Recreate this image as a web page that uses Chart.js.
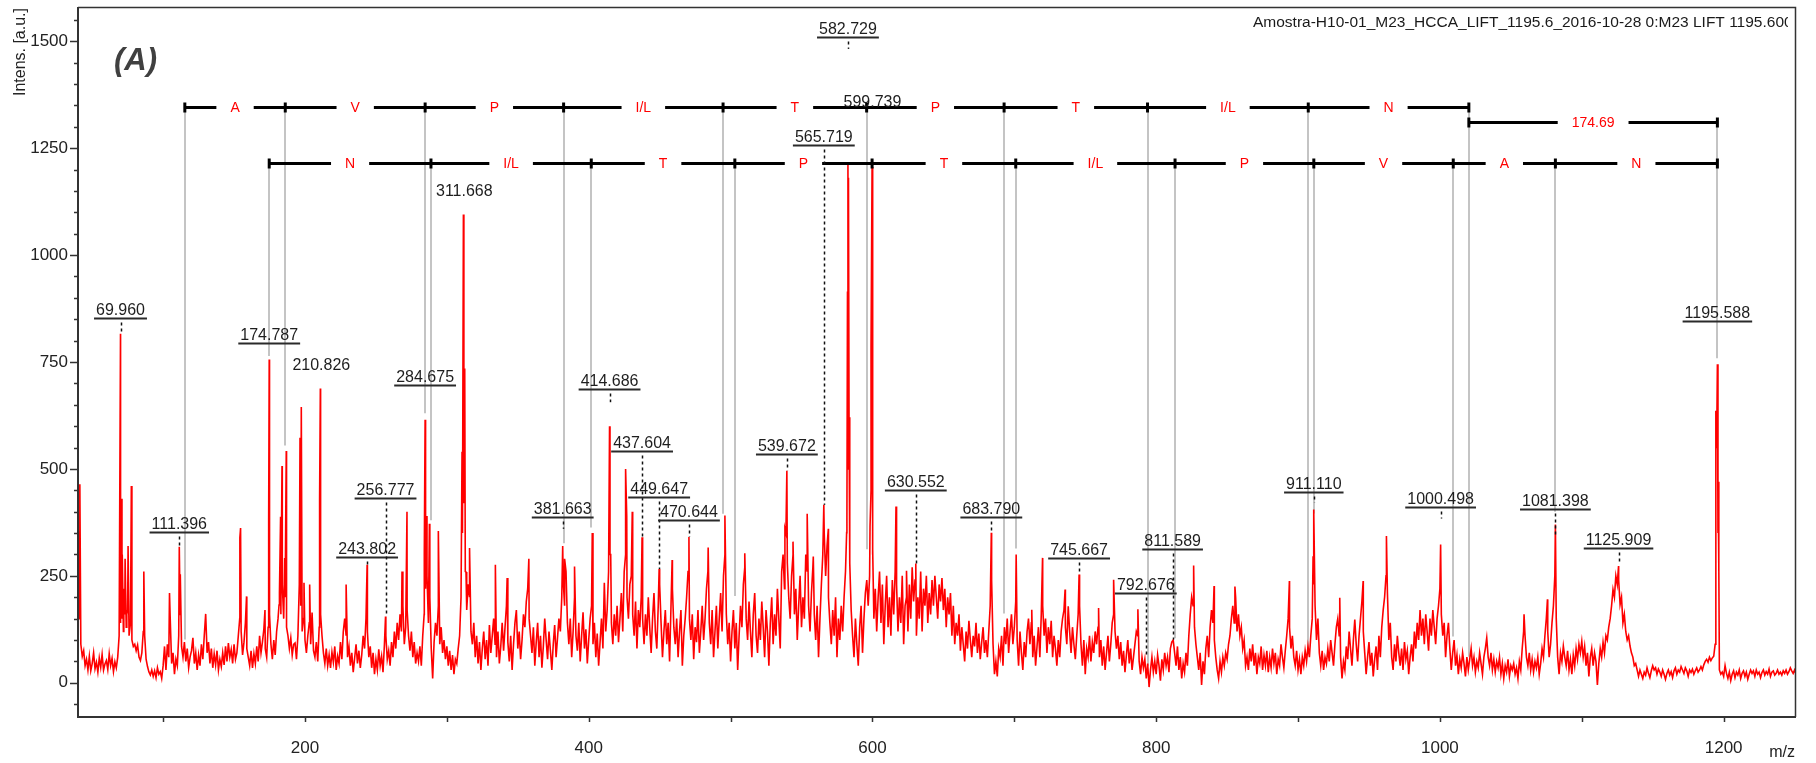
<!DOCTYPE html>
<html>
<head>
<meta charset="utf-8">
<script src="https://cdn.jsdelivr.net/npm/chart.js@4.4.1/dist/chart.umd.min.js"></script>
<style>html,body{margin:0;padding:0;background:#fff;overflow:hidden}canvas{display:block}</style>
</head>
<body>
<canvas id="c" width="1816" height="763"></canvas>
<script>
// ---------- DATA ----------
// spectrum sampled every 1 m/z (intensity, a.u.), split in blocks
const noiseStartMz = [40, 240, 440, 640, 840, 1040];
const noiseA = [
340,150,90,62,75,40,55,30,62,28,45,70,33,48,25,58,36,66,30,44,
52,31,68,40,57,26,49,35,60,110,140,150,120,160,130,170,110,140,100,85,
90,75,88,60,52,70,120,110,55,38,25,18,30,15,28,12,35,20,26,10,
40,85,30,90,60,150,45,70,20,55,40,110,160,85,60,95,50,80,35,60,
75,105,45,70,30,65,40,90,55,110,161,70,95,45,80,35,68,42,75,30,
55,38,70,42,85,50,93,60,78,45,90,55,70,110,150,120,65,95,140,80,
60,40,75,35,68,45,85,50,110,70,95,125,80,60,130,160,90,55,100,65,
120,150,210,160,230,150,200,130,110,80,105,65,90,93,55,110,230,180,120,150,
100,70,110,140,90,164,75,60,95,50,130,160,110,70,45,80,40,65,35,72,
48,85,30,62,45,95,55,120,150,110,60,85,40,70,25,58,90,45,75,35];
const noiseB = [
65,110,80,150,120,60,85,35,70,20,55,30,78,40,62,25,90,110,55,75,
40,95,60,120,80,140,100,160,120,180,90,130,170,110,75,120,60,95,45,70,
50,85,40,110,160,220,250,140,200,80,10,95,140,110,180,90,130,70,100,55,
85,40,75,30,65,20,55,45,80,110,200,350,420,260,170,230,200,120,90,140,
60,110,45,95,30,80,120,55,100,40,135,70,110,150,90,60,120,45,85,140,
75,130,180,95,50,110,30,90,140,170,80,120,55,100,160,130,190,220,150,110,
70,130,40,95,140,60,110,35,85,150,100,55,120,75,30,90,135,60,105,150,
120,200,240,180,260,140,90,150,60,120,200,110,75,140,50,110,165,80,125,45,
100,150,180,90,140,60,115,40,95,150,80,234,120,170,260,300,140,90,160,110,
180,95,150,210,120,260,300,200,150,230,250,160,110,190,80,170,130,200,150,90];
const noiseC = [
160,110,200,130,70,150,210,120,80,180,230,140,60,120,170,90,140,50,180,220,
130,90,150,60,120,170,40,110,150,200,260,150,100,160,55,130,95,170,70,120,
180,100,150,220,260,140,90,170,60,120,180,80,150,210,120,250,300,160,90,140,
50,120,170,80,140,30,110,180,130,230,270,150,100,190,120,60,160,210,110,70,
150,100,190,130,60,170,120,40,140,200,90,160,110,220,150,80,260,300,220,350,
280,200,150,250,300,160,220,100,180,250,130,200,150,300,260,180,120,210,270,160,
100,180,60,150,230,300,350,250,320,200,140,90,170,110,200,60,150,100,180,120,
200,260,380,500,280,170,110,60,150,90,40,130,180,70,150,210,240,180,250,450,
300,150,220,120,200,260,140,230,90,180,250,130,200,110,240,160,260,230,120,200,
140,250,90,180,200,120,230,150,270,190,240,110,200,150,260,120,220,180,250,140];
const noiseD = [
210,160,240,180,250,200,150,230,190,245,170,220,130,200,160,210,110,180,90,140,
110,160,75,130,90,50,120,80,145,100,60,110,85,140,70,115,55,95,130,70,
100,60,120,180,240,90,20,50,15,80,60,110,40,130,90,150,70,120,160,90,
130,190,100,40,120,70,30,95,60,120,150,90,140,60,110,40,85,130,60,160,
180,110,150,70,130,90,145,60,110,80,40,100,60,120,150,170,130,90,179,120,
70,130,90,55,110,160,180,90,40,100,20,80,60,110,50,95,70,120,90,130,
60,100,40,85,30,70,110,50,90,140,160,120,80,110,55,95,40,75,25,65,
100,45,80,30,60,90,120,110,50,20,60,35,55,10,45,-10,30,60,25,50,
20,65,40,5,55,30,70,40,60,25,80,95,100,70,40,85,30,60,10,45,
25,70,40,110,160,200,180,130,90,60,30,70,-5,50,20,80,110,60,130,170];
const noiseE = [
140,100,60,30,10,50,25,60,40,70,55,90,110,150,180,140,200,120,160,110,
130,80,100,40,60,30,80,50,90,40,70,20,60,45,85,30,65,40,75,25,
60,35,80,45,70,20,55,40,90,60,35,75,110,150,130,80,110,60,40,75,
30,55,20,60,40,75,50,85,60,110,150,230,180,100,150,70,40,75,30,60,
45,80,50,100,70,40,90,130,150,110,60,10,50,30,85,55,120,80,40,100,
148,90,50,110,150,190,120,70,20,60,95,40,70,15,55,85,30,110,60,130,
170,200,250,210,100,140,60,30,90,50,110,70,40,80,30,95,55,75,20,60,
90,50,120,80,140,100,170,110,150,90,160,120,75,150,110,170,130,90,150,180,
220,160,110,140,60,110,140,80,30,70,100,40,65,20,55,35,70,45,15,60,
30,55,80,40,60,25,50,35,70,45,20,60,80,105,60,40,70,30,55,25];
const noiseF = [
50,35,60,20,45,10,40,25,55,15,40,30,45,20,35,10,50,30,80,120,
110,60,40,70,30,55,25,50,35,60,20,45,80,60,110,150,120,60,90,140,
180,250,150,60,20,70,50,86,60,40,75,30,55,20,65,40,80,55,90,70,
97,60,85,40,70,15,60,80,40,70,50,-5,45,80,60,95,70,110,100,130,
150,180,218,200,250,230,240,183,200,140,160,120,100,110,86,70,60,40,45,30,
15,30,20,10,25,18,35,22,12,28,40,30,35,20,32,25,15,30,20,8,
22,30,18,26,12,28,35,20,30,25,38,30,22,35,28,15,30,24,32,20,
28,35,25,30,38,30,42,50,55,48,60,52,58,62,90,550,350,30,20,25,
15,40,22,10,25,5,20,28,12,25,18,30,10,22,28,15,25,8,20,30,
22,28,15,30,20,25,12,24,30,18,26,20,32,15,25,28,18,22,30,20,
25,18,28,22,30,20,26,35,28,22,30,20];

// individual peaks (m/z, intensity)
const peakMz = [40.6,41.3,69.96,70.5,71.2,72.3,73.2,74.4,75.3,77.6,86.4,104.5,111.396,112.1,154.1,154.6,158.8,171.8,
174.4,174.787,181.7,182.8,183.8,185.7,186.8,196.5,197.4,199.3,203.3,210.3,210.826,229.0,243.802,256.777,268.4,271.9,
284.1,284.675,285.5,287.7,294.0,310.7,311.668,312.6,313.5,316.0,334.2,342.5,357.8,381.663,383.0,390.0,402.5,414.686,415.5,
426.0,426.8,430.7,437.604,449.647,458.8,470.644,484.2,496.0,510.0,538.3,539.672,544.0,554.0,558.3,565.719,568.9,
581.8,582.4,582.729,583.1,583.5,598.3,599.0,599.739,600.3,616.6,624.0,630.552,683.79,701.3,712.3,719.9,735.8,745.667,
759.4,770.0,787.1,826.4,840.8,855.5,893.9,910.6,911.11,929.4,945.9,962.3,1000.498,1059.3,1075.8,1081.398,1125.909,
1194.5,1195.2,1195.588,1196.1,1196.6];
const peakInt = [354,464,816,430,300,220,290,160,320,460,260,210,318,254,339,362,202,170,
386,756,182,388,507,292,542,573,645,234,230,429,688,230,276,155,260,400,
300,615,390,372,355,540,1095,735,259,315,276,245,290,320,290,272,350,600,300,
500,390,400,340,266,287,341,316,391,303,360,496,330,395,295,416,360,
351,913,1214,1181,621,366,789,1206,312,412,262,279,351,300,171,292,218,253,
175,241,172,274,226,225,238,296,405,199,238,343,323,160,195,370,273,
636,600,745,470,265];

// peak annotations
const labelText = ['69.960','111.396','174.787','210.826','243.802','256.777','284.675','311.668','381.663','414.686',
'437.604','449.647','470.644','539.672','565.719','582.729','599.739','630.552','683.790','745.667','792.676','811.589',
'911.110','1000.498','1081.398','1125.909','1195.588'];
const labelMz = [69.96,111.396,174.787,211.5,243.802,256.777,284.675,312.3,381.663,414.686,
437.604,449.647,470.644,539.672,565.719,582.729,600.0,630.552,683.79,745.667,792.676,811.589,
911.11,1000.498,1081.398,1125.909,1195.588];
const labelLevel = [854,352,794,725,293,432,696,1131,388,686,541,435,380,534,1257,1509,1339,451,387,291,211,313,445,410,407,316,847];
const labelMarkEnd = [816,318,null,null,276,155,null,null,360,656,339,266,341,496,416,1482,null,279,351,253,62,101,421,384,343,281,null];
const labelUnderlined = [true,true,true,false,true,true,true,false,true,true,true,true,true,true,true,true,false,true,true,true,true,true,true,true,true,true,true];

// sequence ladders
const ladderTopMz = [115.3,186.1,284.7,382.3,494.7,595.9,692.8,793.9,907.2,1020.4];
const ladderTopRes = ['A','V','P','I/L','T','P','T','I/L','N'];
const ladderTopGreyEnd = [101,555,630,326,395,312,162,40,77,61];
const ladderBottomMz = [174.787,288.8,401.8,503.0,599.739,701.0,813.3,911.11,1009.4,1081.398,1195.588];
const ladderBottomRes = ['N','I/L','T','P','T','I/L','P','V','A','N'];
const ladderBottomGreyEnd = [764,380,363,203,1206,314,104,396,108,400,759];
const bracketMz = [1020.4,1195.588];
const bracketText = ['174.69'];

const xTickValues = [200,400,600,800,1000,1200];
const yTickValues = [0,250,500,750,1000,1250,1500];

// ---------- BUILD ----------
const blocks = [noiseA, noiseB, noiseC, noiseD, noiseE, noiseF];
const points = [];
blocks.forEach((arr, b) => arr.forEach((v, i) => points.push({x: noiseStartMz[b] + i, y: v})));
peakMz.forEach((m, i) => points.push({x: m, y: peakInt[i]}));
points.sort((a, b) => a.x - b.x);

const FONT = '"Liberation Sans", Arial, Helvetica, sans-serif';
const TOP_LEVEL = 1347, BOTTOM_LEVEL = 1215, BRACKET_LEVEL = 1312;

function drawLadder(ctx, x, y, mzs, letters, level) {
  const py = Math.round(y.getPixelForValue(level)) + 0.5;
  ctx.font = '14px ' + FONT;
  ctx.textAlign = 'center';
  ctx.textBaseline = 'middle';
  ctx.lineCap = 'butt';
  for (let i = 0; i < letters.length; i++) {
    const x0 = x.getPixelForValue(mzs[i]), x1 = x.getPixelForValue(mzs[i + 1]);
    const cx = (x0 + x1) / 2;
    const hw = ctx.measureText(letters[i]).width / 2 + 14;
    ctx.strokeStyle = '#000';
    ctx.lineWidth = 3;
    ctx.beginPath();
    ctx.moveTo(x0, py); ctx.lineTo(cx - hw, py);
    ctx.moveTo(cx + hw, py); ctx.lineTo(x1, py);
    ctx.stroke();
    ctx.fillStyle = '#ff0000';
    ctx.fillText(letters[i], cx, py + 1);
  }
  ctx.strokeStyle = '#000';
  ctx.lineWidth = 3;
  mzs.forEach(m => {
    const px = x.getPixelForValue(m);
    ctx.beginPath(); ctx.moveTo(px, py - 5); ctx.lineTo(px, py + 5); ctx.stroke();
  });
}

const annotations = {
  id: 'annotations',
  beforeDatasetsDraw(chart) {
    const {ctx, scales: {x, y}} = chart;
    ctx.save();
    ctx.strokeStyle = '#c4c4c4';
    ctx.lineWidth = 2;
    const vline = (m, a, b) => {
      const px = Math.round(x.getPixelForValue(m));
      ctx.beginPath(); ctx.moveTo(px, y.getPixelForValue(a)); ctx.lineTo(px, y.getPixelForValue(b)); ctx.stroke();
    };
    ladderTopMz.forEach((m, i) => vline(m, TOP_LEVEL, ladderTopGreyEnd[i]));
    ladderBottomMz.forEach((m, i) => vline(m, BOTTOM_LEVEL, ladderBottomGreyEnd[i]));
    vline(bracketMz[1], BRACKET_LEVEL, BOTTOM_LEVEL);
    ctx.restore();
  },
  afterDatasetsDraw(chart) {
    const {ctx, chartArea: ca, scales: {x, y}} = chart;
    ctx.save();
    // ladders
    drawLadder(ctx, x, y, ladderTopMz, ladderTopRes, TOP_LEVEL);
    drawLadder(ctx, x, y, ladderBottomMz, ladderBottomRes, BOTTOM_LEVEL);
    drawLadder(ctx, x, y, bracketMz, bracketText, BRACKET_LEVEL);

    // peak labels
    ctx.font = '16px ' + FONT;
    labelText.forEach((t, i) => {
      const px = x.getPixelForValue(labelMz[i]);
      const uy = Math.round(y.getPixelForValue(labelLevel[i])) + 0.5;
      const w = ctx.measureText(t).width;
      ctx.fillStyle = '#1e1e1e';
      ctx.textAlign = 'center';
      ctx.textBaseline = 'alphabetic';
      ctx.fillText(t, px, uy - 4);
      if (labelUnderlined[i]) {
        ctx.strokeStyle = '#2a2a2a';
        ctx.lineWidth = 2;
        ctx.setLineDash([]);
        ctx.beginPath(); ctx.moveTo(px - w / 2 - 2, uy); ctx.lineTo(px + w / 2 + 2, uy); ctx.stroke();
      }
      if (labelMarkEnd[i] !== null) {
        const ey = y.getPixelForValue(labelMarkEnd[i]);
        const mx = Math.round(px) + 0.5;
        ctx.strokeStyle = '#111';
        ctx.lineWidth = 1.5;
        ctx.setLineDash([3, 3]);
        ctx.beginPath(); ctx.moveTo(mx, uy + 4); ctx.lineTo(mx, ey); ctx.stroke();
        ctx.setLineDash([]);
      }
    });

    // frame
    ctx.strokeStyle = '#333';
    ctx.lineWidth = 1.5;
    ctx.beginPath();
    ctx.moveTo(ca.left, ca.top + 0.5); ctx.lineTo(ca.right - 0.5, ca.top + 0.5); ctx.lineTo(ca.right - 0.5, ca.bottom);
    ctx.stroke();
    ctx.lineWidth = 2;
    ctx.beginPath();
    ctx.moveTo(ca.left, ca.top); ctx.lineTo(ca.left, ca.bottom); ctx.lineTo(ca.right, ca.bottom);
    ctx.stroke();

    // tick marks
    ctx.lineWidth = 1.5;
    y.ticks.forEach(t => {
      const py = Math.round(y.getPixelForValue(t.value)) + 0.5;
      const len = (Math.round(t.value) % 250 === 0) ? 8 : 4;
      ctx.beginPath(); ctx.moveTo(ca.left - len, py); ctx.lineTo(ca.left, py); ctx.stroke();
    });
    x.ticks.forEach(t => {
      const px = Math.round(x.getPixelForValue(t.value)) + 0.5;
      ctx.beginPath(); ctx.moveTo(px, ca.bottom); ctx.lineTo(px, ca.bottom + 5); ctx.stroke();
    });

    // title (clipped at frame)
    ctx.save();
    ctx.beginPath(); ctx.rect(ca.left, ca.top, ca.right - ca.left - 8, 40); ctx.clip();
    ctx.font = '15.5px ' + FONT;
    ctx.fillStyle = '#1a1a1a';
    ctx.textAlign = 'left';
    ctx.textBaseline = 'middle';
    ctx.fillText('Amostra-H10-01_M23_HCCA_LIFT_1195.6_2016-10-28 0:M23 LIFT 1195.6000', ca.right - 543, ca.top + 16);
    ctx.restore();

    // panel letter
    ctx.font = 'bold italic 31px ' + FONT;
    ctx.fillStyle = '#404040';
    ctx.textAlign = 'left';
    ctx.textBaseline = 'alphabetic';
    ctx.fillText('(A)', ca.left + 36, ca.top + 63);

    // axis titles
    ctx.font = '16px ' + FONT;
    ctx.fillStyle = '#222';
    ctx.save();
    ctx.translate(21, 8);
    ctx.rotate(-Math.PI / 2);
    ctx.textAlign = 'right';
    ctx.textBaseline = 'middle';
    ctx.fillText('Intens. [a.u.]', 0, 0);
    ctx.restore();
    ctx.textAlign = 'right';
    ctx.textBaseline = 'middle';
    ctx.fillText('m/z', ca.right - 1, 753);
    ctx.restore();
  }
};

new Chart(document.getElementById('c'), {
  type: 'line',
  data: {
    datasets: [{
      data: points,
      borderColor: '#ff0000',
      borderWidth: 1.6,
      pointRadius: 0,
      tension: 0,
      fill: false
    }]
  },
  options: {
    responsive: false,
    animation: false,
    devicePixelRatio: 1,
    parsing: false,
    normalized: true,
    layout: { padding: { top: 7, right: 20, left: 0, bottom: 0 } },
    plugins: { legend: { display: false }, tooltip: { enabled: false } },
    scales: {
      x: {
        type: 'linear', min: 40, max: 1251,
        afterFit: s => { s.height = 46; s.paddingLeft = 0; s.paddingRight = 0; },
        grid: { display: false, drawTicks: false },
        border: { display: false },
        ticks: {
          stepSize: 100, autoSkip: false, includeBounds: false, maxRotation: 0, padding: 21,
          color: '#222', font: { family: FONT, size: 17 },
          callback: v => xTickValues.includes(Math.round(v)) ? String(Math.round(v)) : ''
        }
      },
      y: {
        type: 'linear', min: -80, max: 1580,
        afterFit: s => { s.width = 78; s.paddingTop = 0; s.paddingBottom = 0; },
        grid: { display: false, drawTicks: false },
        border: { display: false },
        ticks: {
          stepSize: 50, autoSkip: false, includeBounds: false, padding: 10,
          color: '#222', font: { family: FONT, size: 17 },
          callback: v => yTickValues.includes(Math.round(v)) ? String(Math.round(v)) : ''
        }
      }
    }
  },
  plugins: [annotations]
});
</script>
</body>
</html>
